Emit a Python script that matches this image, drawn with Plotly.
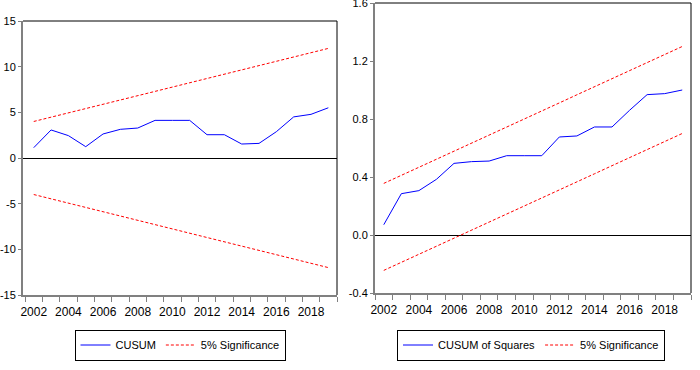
import plotly.graph_objects as go

years = list(range(2002, 2020))

cusum = [1.13, 3.07, 2.45, 1.24, 2.63, 3.14, 3.28, 4.12, 4.12, 4.12,
         2.55, 2.55, 1.53, 1.60, 2.88, 4.50, 4.78, 5.50]
cusum_upper = [4.0, 4.47, 4.94, 5.41, 5.88, 6.35, 6.82, 7.29, 7.76,
               8.24, 8.71, 9.18, 9.65, 10.12, 10.59, 11.06, 11.53, 12.0]
cusum_lower = [-4.0, -4.47, -4.94, -5.41, -5.88, -6.35, -6.82, -7.29, -7.76,
               -8.24, -8.71, -9.18, -9.65, -10.12, -10.59, -11.06, -11.53, -12.0]

cusumsq = [0.071, 0.285, 0.306, 0.384, 0.494, 0.506, 0.510, 0.547, 0.547,
           0.547, 0.676, 0.683, 0.745, 0.745, 0.860, 0.968, 0.975, 1.0]
sq_upper = [0.356, 0.411, 0.467, 0.522, 0.578, 0.633, 0.689, 0.744, 0.800,
            0.856, 0.911, 0.967, 1.022, 1.078, 1.133, 1.189, 1.244, 1.300]
sq_lower = [-0.244, -0.189, -0.133, -0.078, -0.022, 0.033, 0.089, 0.144, 0.200,
            0.256, 0.311, 0.367, 0.422, 0.478, 0.533, 0.589, 0.644, 0.700]

x_labels = [2002, 2004, 2006, 2008, 2010, 2012, 2014, 2016, 2018]
x_bounds = [y - 0.5 for y in range(2002, 2021)]
left_yticks = [-15, -10, -5, 0, 5, 10, 15]
left_ytext = ["-15", "-10", "-5", "0", "5", "10", "15"]
right_yticks = [-0.4, 0.0, 0.4, 0.8, 1.2, 1.6]
right_ytext = ["-0.4", "0.0", "0.4", "0.8", "1.2", "1.6"]

FONT = "Liberation Sans, Arial, sans-serif"
BLUE = "#0000FF"
RED = "#FF0000"
GRAY = "#808080"
DASH = "3px,2px"

fig = go.Figure()

fig.add_trace(go.Scatter(x=years, y=cusum, mode="lines", name="CUSUM",
                         line=dict(color=BLUE, width=1), xaxis="x", yaxis="y",
                         legend="legend"))
fig.add_trace(go.Scatter(x=years, y=cusum_upper, mode="lines", name="5% Significance",
                         line=dict(color=RED, width=1, dash=DASH), xaxis="x", yaxis="y",
                         legend="legend"))
fig.add_trace(go.Scatter(x=years, y=cusum_lower, mode="lines", name="5% Significance",
                         line=dict(color=RED, width=1, dash=DASH), xaxis="x", yaxis="y",
                         showlegend=False, legend="legend"))

fig.add_trace(go.Scatter(x=years, y=cusumsq, mode="lines", name="CUSUM of Squares",
                         line=dict(color=BLUE, width=1), xaxis="x2", yaxis="y2",
                         legend="legend2"))
fig.add_trace(go.Scatter(x=years, y=sq_upper, mode="lines", name="5% Significance",
                         line=dict(color=RED, width=1, dash=DASH), xaxis="x2", yaxis="y2",
                         legend="legend2"))
fig.add_trace(go.Scatter(x=years, y=sq_lower, mode="lines", name="5% Significance",
                         line=dict(color=RED, width=1, dash=DASH), xaxis="x2", yaxis="y2",
                         showlegend=False, legend="legend2"))

xcommon = dict(
    tickmode="array", tickvals=x_labels, ticktext=[str(v) for v in x_labels],
    ticks="", showgrid=False, zeroline=False, showline=True,
    linecolor=GRAY, linewidth=2, automargin=False, ticklabelstandoff=5,
    tickfont=dict(family=FONT, size=12, color="black"),
    minor=dict(tickmode="array", tickvals=x_bounds, ticks="outside",
               ticklen=5, tickcolor=GRAY, tickwidth=1, showgrid=False),
)
ycommon = dict(
    showgrid=False, showline=True, linecolor=GRAY, linewidth=2,
    ticks="outside", ticklen=3, tickcolor=GRAY, tickwidth=1,
    zeroline=True, zerolinecolor="black", zerolinewidth=1, automargin=False,
    ticklabeloverflow="allow",
    tickfont=dict(family=FONT, size=11, color="black"),
)

legend_common = dict(orientation="h", xanchor="center", yanchor="middle",
                     bordercolor="black", borderwidth=1, bgcolor="white",
                     font=dict(family=FONT, size=11, color="black"),
                     itemwidth=30, tracegroupgap=0)

fig.update_layout(
    width=700, height=370,
    margin=dict(l=0, r=0, t=0, b=0),
    paper_bgcolor="white", plot_bgcolor="white",
    font=dict(family=FONT, size=12, color="black"),
    xaxis=dict(domain=[23/700, 337/700], range=[2001.38, 2019.5], anchor="y", **xcommon),
    yaxis=dict(domain=[1-295/370, 1-21/370], range=[-15, 15], anchor="x",
               tickmode="array", tickvals=left_yticks, ticktext=left_ytext, **ycommon),
    xaxis2=dict(domain=[375/700, 691/700], range=[2001.5, 2019.5], anchor="y2", **xcommon),
    yaxis2=dict(domain=[1-293/370, 1-3/370], range=[-0.4, 1.6], anchor="x2",
                tickmode="array", tickvals=right_yticks, ticktext=right_ytext, **ycommon),
    legend=dict(x=180/700, y=1-345/370, **legend_common),
    legend2=dict(x=531/700, y=1-345/370, **legend_common),
    showlegend=True,
)

# black top/right frame borders
for xr, yr in (("x", "y"), ("x2", "y2")):
    fig.add_shape(type="line", xref=f"{xr} domain", yref=f"{yr} domain",
                  x0=0, x1=1, y0=1, y1=1, line=dict(color="black", width=1))
    fig.add_shape(type="line", xref=f"{xr} domain", yref=f"{yr} domain",
                  x0=1, x1=1, y0=0, y1=1, line=dict(color="black", width=1))

fig.write_html("out.html",
               config={"displayModeBar": False},
               post_script="document.body.style.margin='0';document.body.style.overflow='hidden';")
